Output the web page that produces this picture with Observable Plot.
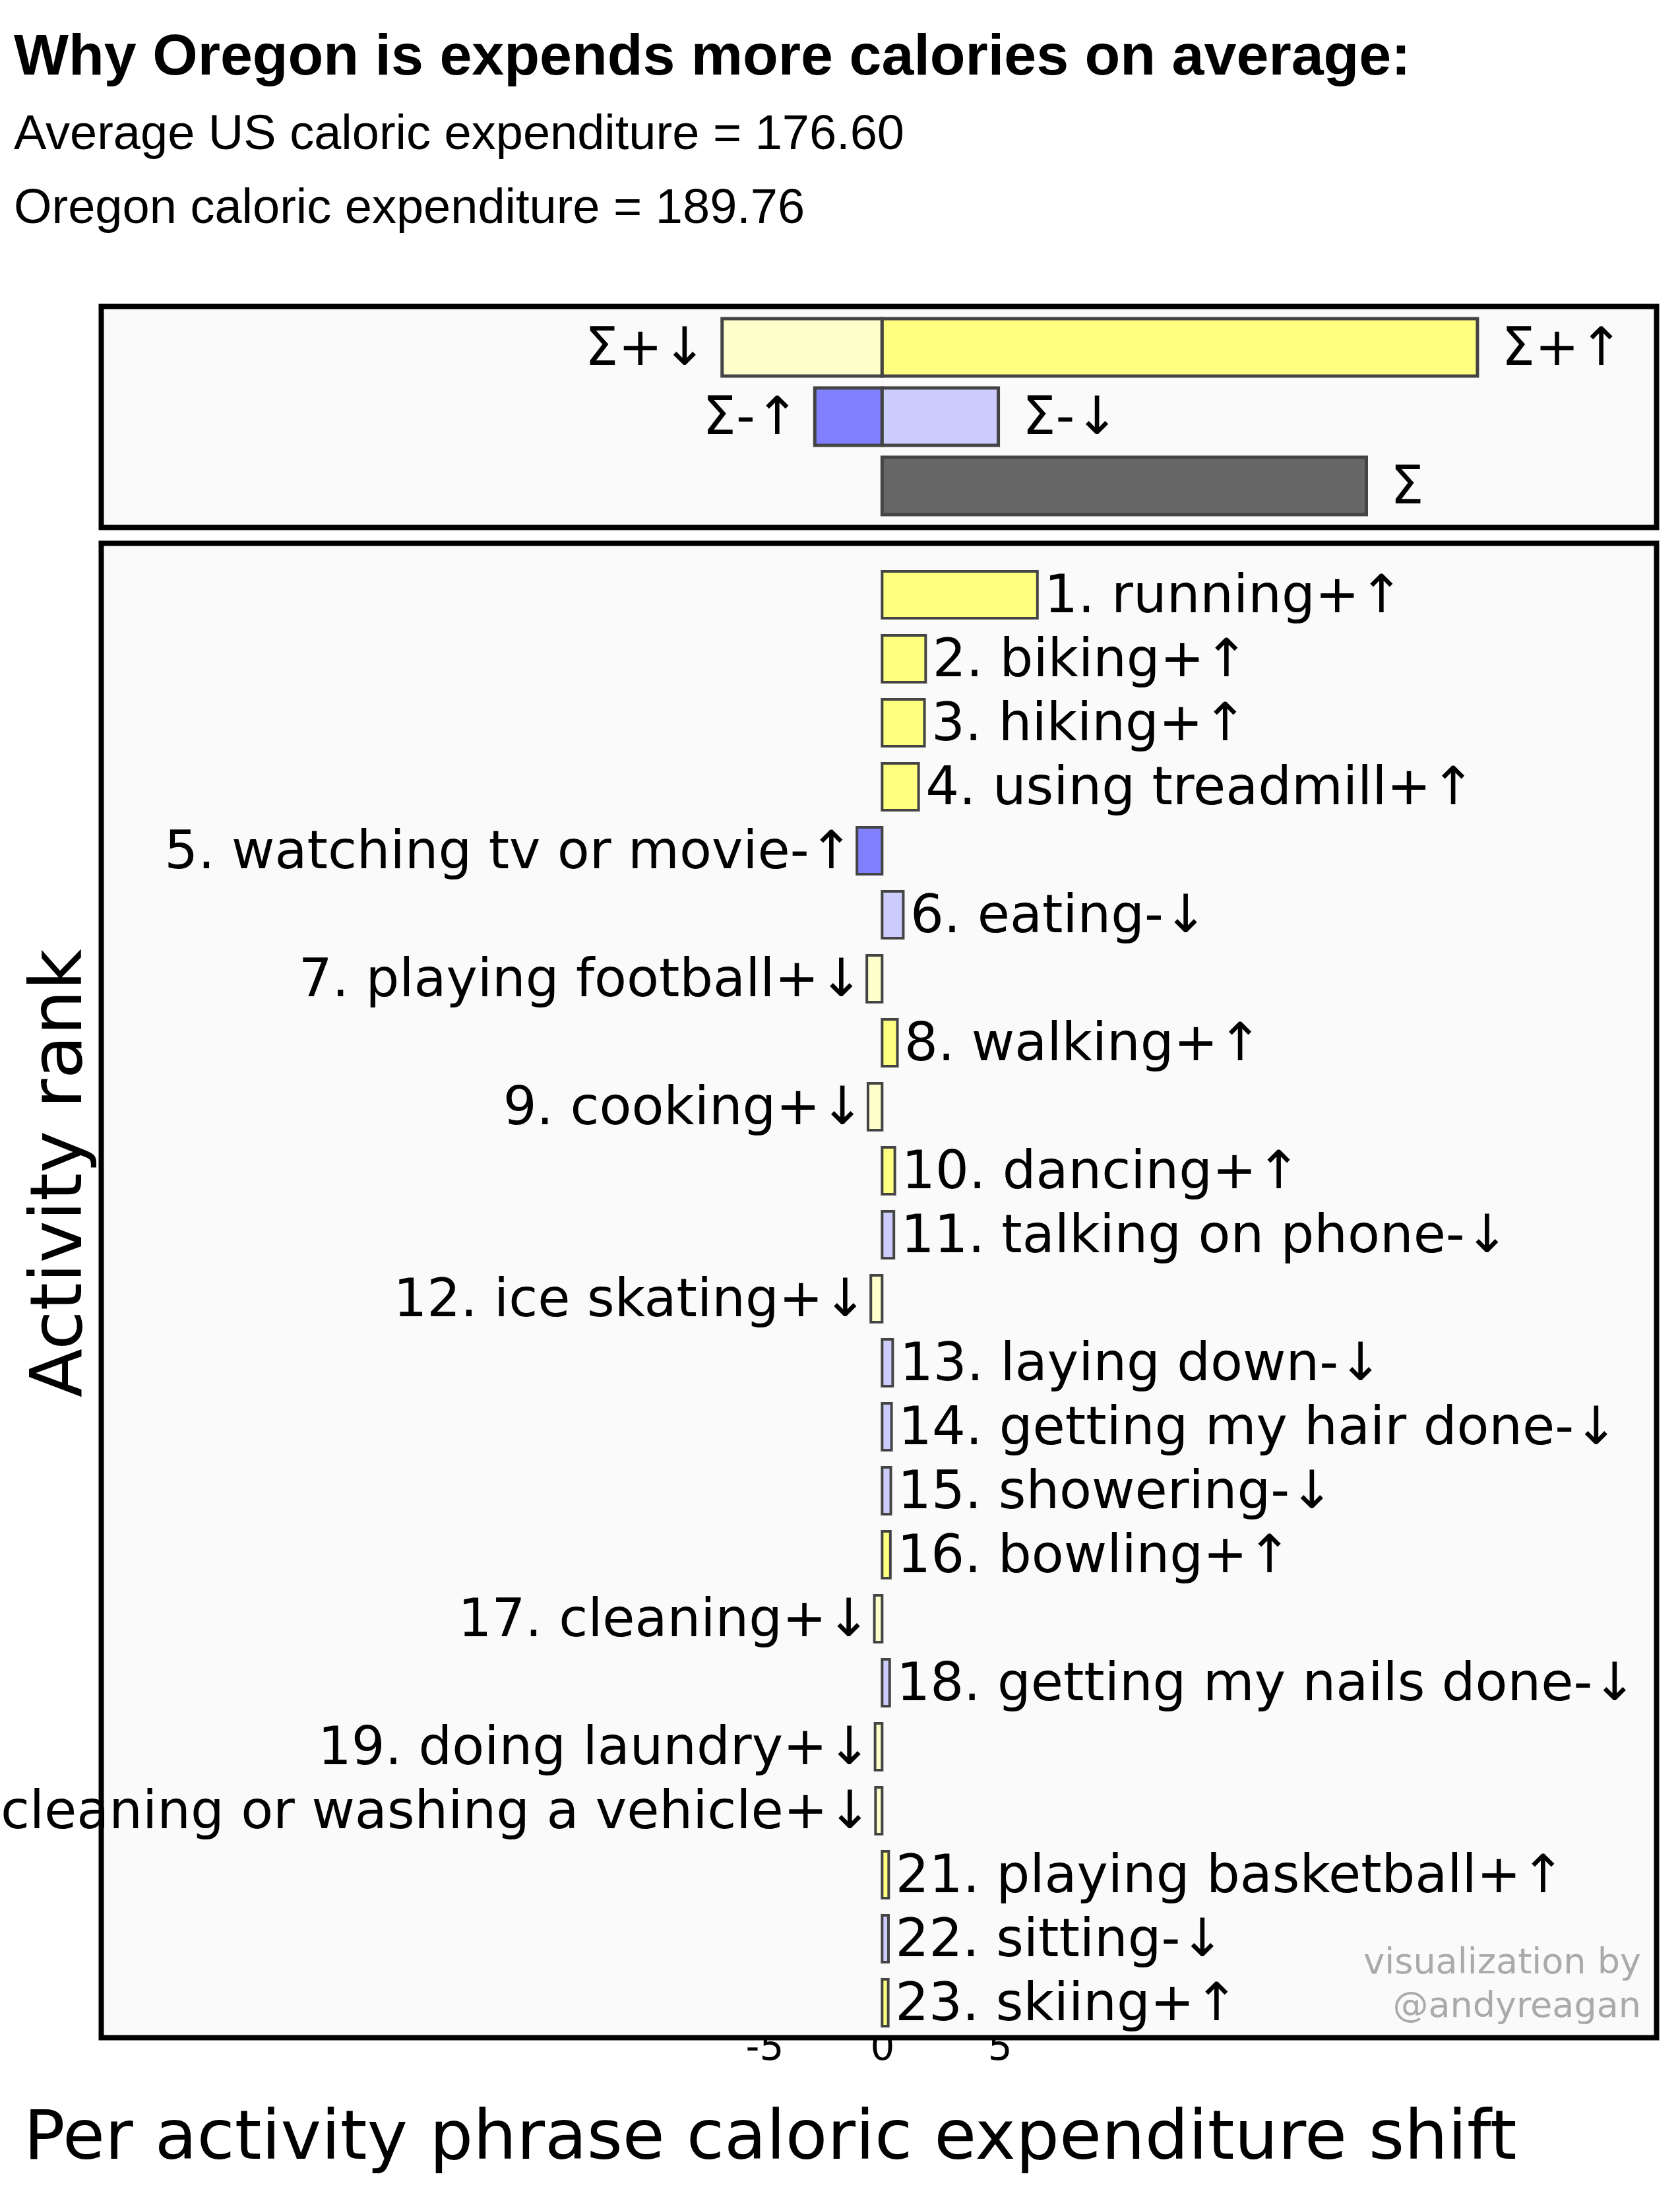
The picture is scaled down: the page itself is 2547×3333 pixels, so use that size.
<!DOCTYPE html>
<html><head><meta charset="utf-8">
<script src="https://cdn.jsdelivr.net/npm/d3@7"></script>
<script src="https://cdn.jsdelivr.net/npm/@observablehq/plot@0.6"></script>
<style>
body{margin:0;background:#fff;width:2547px;height:3333px;overflow:hidden;position:relative;font-family:"Liberation Sans",Arial,sans-serif}
.abs{position:absolute;white-space:nowrap}
svg{overflow:visible}
</style></head><body>
<div id="root"></div>
<script>
const title = "Why Oregon is expends more calories on average:";
const subtitles = ["Average US caloric expenditure = 176.60", "Oregon caloric expenditure = 189.76"];
const activities = ["running","biking","hiking","using treadmill","watching tv or movie","eating","playing football","walking","cooking","dancing","talking on phone","ice skating","laying down","getting my hair done","showering","bowling","cleaning","getting my nails done","doing laundry","cleaning or washing a vehicle","playing basketball","sitting","skiing"];
const shifts = [6.6,1.85,1.8,1.55,-1.07,0.9,-0.65,0.65,-0.6,0.54,0.5,-0.48,0.45,0.4,0.37,0.35,-0.33,0.32,-0.3,-0.28,0.28,0.27,0.26];
const types = ["+↑","+↑","+↑","+↑","-↑","-↓","+↓","+↑","+↓","+↑","-↓","+↓","-↓","-↓","-↓","+↑","+↓","-↓","+↓","+↓","+↑","-↓","+↑"];
const sumRows = ["Σ+","Σ-","Σ"];
const sumBars = [
  {row:"Σ+", value:-6.8, type:"+↓", label:"Σ+↓"},
  {row:"Σ+", value:25.3, type:"+↑", label:"Σ+↑"},
  {row:"Σ-", value:-2.86, type:"-↑", label:"Σ-↑"},
  {row:"Σ-", value:4.94, type:"-↓", label:"Σ-↓"},
  {row:"Σ", value:20.58, type:"Σ", label:"Σ"}
];
const xTicks = [-5,0,5];
const xDomain = [-33.2, 32.9];
const colorDomain = ["+↑","+↓","-↑","-↓","Σ"];
const colorRange = ["#ffff80","#ffffcc","#8080ff","#ccccff","#666666"];

(function(){
  const root = document.getElementById("root");
  function add(html, style){const d=document.createElement("div");d.className="abs";d.innerHTML=html;Object.assign(d.style,style);root.appendChild(d);return d;}
  add(title,{left:"21px",top:"32px",fontSize:"88px",fontWeight:"bold"});
  add(subtitles[0],{left:"21px",top:"158px",fontSize:"74px"});
  add(subtitles[1],{left:"21px",top:"270px",fontSize:"74px"});

  const W = 2547, ML = 153, MR = 36;
  const color = {domain:colorDomain, range:colorRange};
  const font = "DejaVu Sans";

  const topPlot = Plot.plot({
    width: W, height: 392, marginLeft: ML, marginRight: MR, marginTop: 33, marginBottom: 24,
    x:{domain:xDomain, axis:null},
    y:{domain:sumRows, axis:null, padding:0.17},
    color,
    style:{fontFamily:font, background:"transparent"},
    marks:[
      Plot.frame({fill:"#fafafa"}),
      Plot.barX(sumBars,{x:"value",y:"row",fill:"type",stroke:"#444",strokeWidth:5}),
      Plot.ruleX([0],{y:()=>"Σ+",stroke:"#000",strokeWidth:4}),
      Plot.text(sumBars.filter(d=>d.value<0),{x:"value",y:"row",text:"label",textAnchor:"end",dx:-24,fontSize:80,fill:"#000"}),
      Plot.text(sumBars.filter(d=>d.value>=0),{x:"value",y:"row",text:"label",textAnchor:"start",dx:36,fontSize:80,fill:"#000"}),
      Plot.frame({stroke:"#000",strokeWidth:8})
    ]
  });
  topPlot.style.position="absolute"; topPlot.style.left="0px"; topPlot.style.top="431px";
  root.appendChild(topPlot);

  const rows = activities.map((a,i)=>({rank:i+1, value:shifts[i], type:types[i], label:`${i+1}. ${a}${types[i]}`}));
  const H = 2265, MB = 90;
  const bottom = Plot.plot({
    width: W, height: H+MB, marginLeft: ML, marginRight: MR, marginTop: 0, marginBottom: MB,
    x:{domain:xDomain, ticks:xTicks, tickSize:0, tickPadding:-8, tickFormat:d=>d, label:null},
    y:{domain:rows.map(d=>d.rank), range:[15,2276], axis:null, padding:0.27},
    color,
    style:{fontFamily:font, fontSize:"58px", background:"transparent", color:"#000"},
    marks:[
      Plot.frame({fill:"#fafafa"}),
      Plot.barX(rows,{x:"value",y:"rank",fill:"type",stroke:"#444",strokeWidth:4}),
      Plot.text(rows.filter(d=>d.value<0),{x:"value",y:"rank",text:"label",textAnchor:"end",dx:-6,fontSize:80,fill:"#000"}),
      Plot.text(rows.filter(d=>d.value>=0),{x:"value",y:"rank",text:"label",textAnchor:"start",dx:10,fontSize:80,fill:"#000"}),
      Plot.frame({stroke:"#000",strokeWidth:8})
    ]
  });
  bottom.style.position="absolute"; bottom.style.left="0px"; bottom.style.top="823px";
  root.appendChild(bottom);

  add("Activity rank",{left:"85px",top:"1778px",fontSize:"108px",fontFamily:font,transform:"translate(-50%,-50%) rotate(-90deg)"});
  add("Per activity phrase caloric expenditure shift",{left:"36px",top:"3175px",fontSize:"104px",fontFamily:font});
  add("visualization by<br>@andyreagan",{right:"59px",top:"2940px",fontSize:"54px",color:"#aaa",textAlign:"right",lineHeight:"66px",fontFamily:font});
})();
</script>
</body></html>
